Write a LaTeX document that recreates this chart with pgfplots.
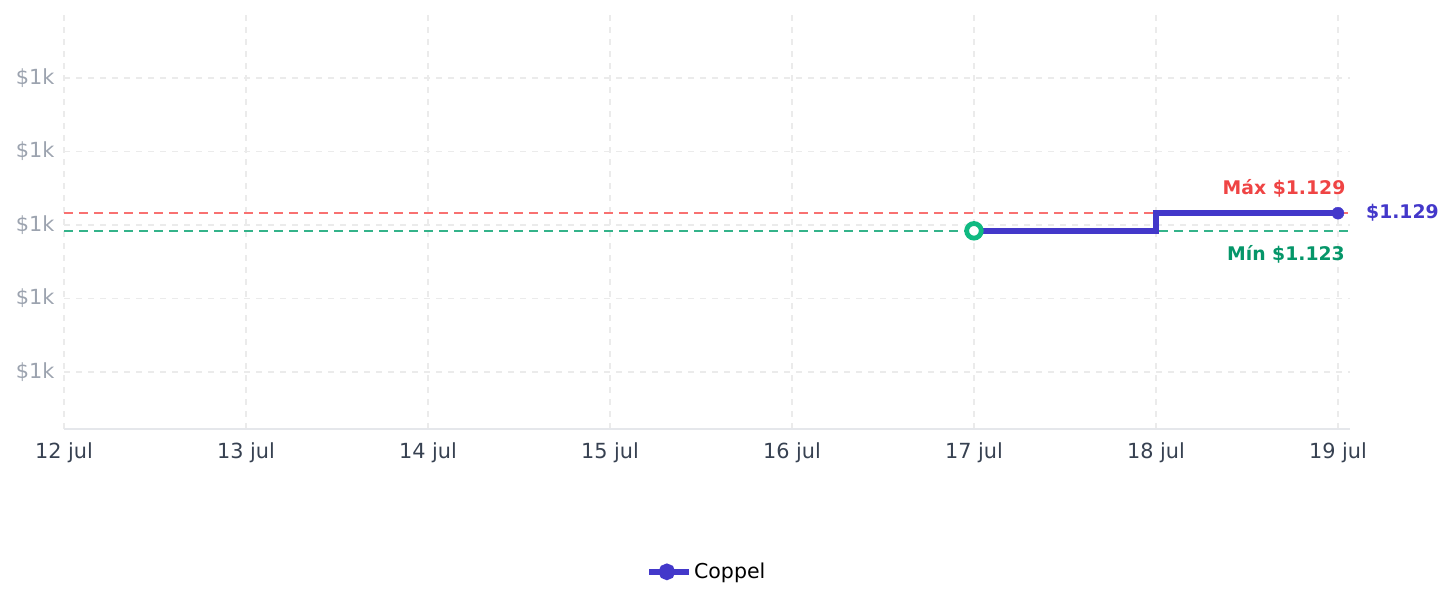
\documentclass[border=0pt]{standalone}
\usepackage{pgfplots}
\pgfplotsset{compat=1.18}
\usepackage{fontspec}
\setmainfont{DejaVu Sans}
\definecolor{ytk}{HTML}{9CA3AF}
\definecolor{xtk}{HTML}{374151}
\definecolor{gridc}{HTML}{EBEBEB}
\definecolor{axisc}{HTML}{E5E7EB}
\definecolor{linec}{HTML}{4338CA}
\definecolor{maxc}{HTML}{F87171}
\definecolor{maxt}{HTML}{EF4444}
\definecolor{minc}{HTML}{34B38A}
\definecolor{mint}{HTML}{059669}
\definecolor{ring}{HTML}{10B981}
\begin{document}
\begin{tikzpicture}[x=1pt,y=1pt]
\path[use as bounding box] (0,0) rectangle (1452,607);
\begin{axis}[
  at={(64pt,178pt)}, anchor=south west, scale only axis,
  width=1286pt, height=414pt,
  xmin=0, xmax=7.066, ymin=1055.6, ymax=1196.4,
  xtick={0,1,2,3,4,5,6,7},
  xticklabels={12 jul,13 jul,14 jul,15 jul,16 jul,17 jul,18 jul,19 jul},
  ytick={1075,1100,1125,1150,1175},
  yticklabels={\$1k,\$1k,\$1k,\$1k,\$1k},
  axis x line*=bottom, axis y line*=left,
  y axis line style={draw=none},
  x axis line style={draw=axisc, line width=1.5pt, -},
  major tick length=0pt,
  grid=major,
  major grid style={draw=gridc, dash pattern=on 6pt off 6pt, line width=1.5pt},
  xticklabel style={font=\fontsize{20.8}{25}\selectfont, text=xtk, yshift=-10pt},
  yticklabel style={font=\fontsize{20.8}{25}\selectfont, text=ytk, xshift=-6pt},
  clip=false,
  legend style={at={(0.5,-0.345)}, anchor=center, draw=none, fill=none,
    font=\fontsize{20.5}{25}\selectfont, text=black},
  legend cell align=left,
]
\addplot[maxc, line width=1.8pt, dash pattern=on 9pt off 6pt, forget plot] coordinates {(0,1129) (7.066,1129)};
\addplot[minc, line width=1.8pt, dash pattern=on 9pt off 6pt, forget plot] coordinates {(0,1123) (7.066,1123)};
\addplot[linec, line width=5.5pt, line join=miter,
  legend image code/.code={\draw[linec, line width=4.5pt] (0pt,0pt) -- (35pt,0pt); \fill[linec] (17.5pt,0pt) circle (5.5pt); \path (0pt,0pt) -- (40pt,0pt);}]
  coordinates {(5,1123) (6,1123) (6,1129) (7,1129)};
\addlegendentry{Coppel}
\addplot[only marks, mark=*, mark size=6pt, mark options={fill=linec, draw=linec}, forget plot] coordinates {(7,1129)};
\addplot[only marks, mark=*, mark size=7.3pt, mark options={fill=white, draw=ring, line width=4.8pt}, forget plot] coordinates {(5,1123)};
\node[anchor=east, text=maxt, font=\fontsize{18.8}{22}\selectfont\bfseries] at (axis cs:7.06,1137.6) {Máx \$1.129};
\node[anchor=east, text=mint, font=\fontsize{18.8}{22}\selectfont\bfseries] at (axis cs:7.057,1115.1) {Mín \$1.123};
\node[anchor=west, text=linec, font=\fontsize{18.8}{22}\selectfont\bfseries, inner sep=0pt] at (axis cs:7.154,1129) {\$1.129};
\end{axis}
\end{tikzpicture}
\end{document}
